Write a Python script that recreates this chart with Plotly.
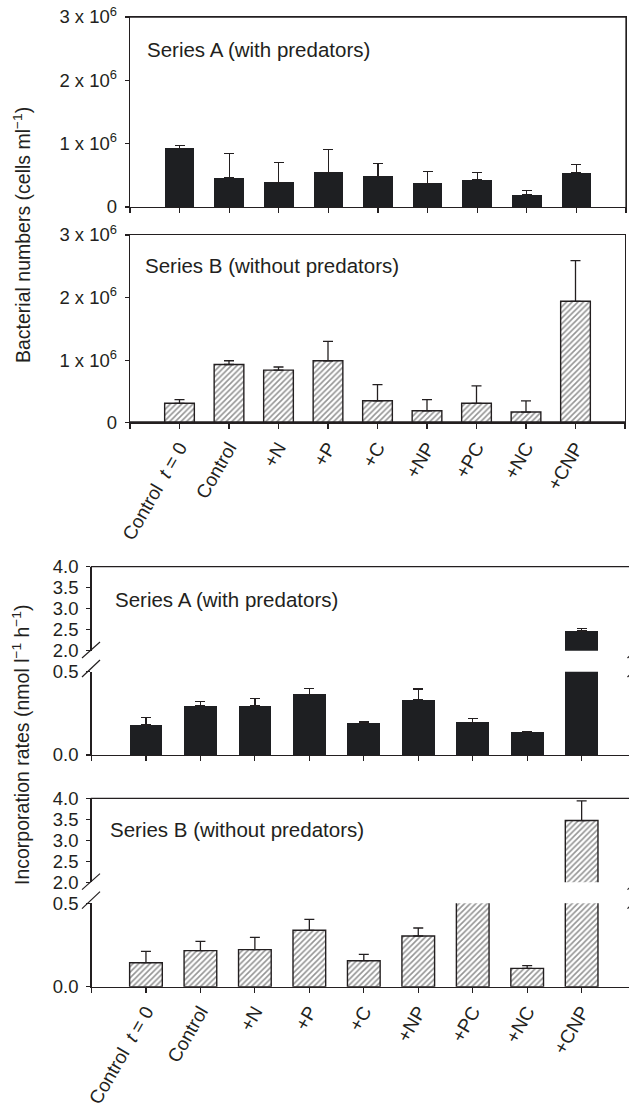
import plotly.graph_objects as go

W, H = 629, 1108

# ---------------- data ----------------
categories = ["Control  <i>t</i> = 0", "Control", "+N", "+P", "+C", "+NP", "+PC", "+NC", "+CNP"]
cat_pos = [1, 2, 3, 4, 5, 6, 7, 8, 9]

# Bacterial numbers (cells ml-1)
bact_A_mean = [0.925e6, 0.465e6, 0.39e6, 0.55e6, 0.487e6, 0.376e6, 0.433e6, 0.195e6, 0.54e6]
bact_A_sd = [0.045e6, 0.375e6, 0.31e6, 0.36e6, 0.20e6, 0.19e6, 0.11e6, 0.065e6, 0.13e6]
bact_B_mean = [0.31e6, 0.93e6, 0.84e6, 0.99e6, 0.35e6, 0.19e6, 0.31e6, 0.17e6, 1.94e6]
bact_B_sd = [0.06e6, 0.06e6, 0.05e6, 0.31e6, 0.26e6, 0.18e6, 0.28e6, 0.18e6, 0.65e6]

# Incorporation rates (nmol l-1 h-1)
inc_A_mean = [0.18, 0.296, 0.294, 0.364, 0.19, 0.332, 0.196, 0.138, 2.47]
inc_A_sd = [0.044, 0.026, 0.044, 0.034, 0.008, 0.064, 0.022, 0.004, 0.06]
inc_B_mean = [0.144, 0.216, 0.222, 0.338, 0.156, 0.304, 1.0, 0.11, 3.47]
inc_B_sd = [0.068, 0.056, 0.074, 0.066, 0.038, 0.048, 0.0, 0.016, 0.47]

bact_ticks = [0, 1e6, 2e6, 3e6]
bact_ticktext = ["0", "1 x 10<sup>6</sup>", "2 x 10<sup>6</sup>", "3 x 10<sup>6</sup>"]
inc_low_ticks = [0.0, 0.5]
inc_high_ticks = [2.0, 2.5, 3.0, 3.5, 4.0]

# ---------------- helpers ----------------
def px(x):
    return x / W

def py(y):
    return 1 - y / H

INK = "#231f20"
FONT = "Liberation Sans, Arial, sans-serif"
solid = dict(color="#1e1f22", line=dict(width=0))
hatch = dict(color="white", line=dict(color=INK, width=1.4),
             pattern=dict(shape="/", fgcolor="#2a2a2a", bgcolor="white", size=4, solidity=0.4))

def bar(mean, sd, marker, xa, ya):
    return go.Bar(x=cat_pos, y=mean, width=0.6, marker=marker, xaxis=xa, yaxis=ya,
                  error_y=dict(type="data", symmetric=False, array=sd, arrayminus=[0] * len(sd),
                               color=INK, thickness=1.3, width=5),
                  showlegend=False, hoverinfo="skip")

fig = go.Figure()
fig.add_trace(bar(bact_A_mean, bact_A_sd, solid, "x", "y"))
fig.add_trace(bar(bact_B_mean, bact_B_sd, hatch, "x2", "y2"))
fig.add_trace(bar(inc_A_mean, inc_A_sd, solid, "x3", "y3"))
fig.add_trace(bar(inc_A_mean, inc_A_sd, solid, "x3", "y4"))
fig.add_trace(bar(inc_B_mean, inc_B_sd, hatch, "x4", "y5"))
fig.add_trace(bar(inc_B_mean, inc_B_sd, hatch, "x4", "y6"))

tick_font = dict(family=FONT, size=18.5, color=INK)
lab_font = dict(family=FONT, size=19, color=INK)

def xaxis(dom, rng, anchor, labels, lw=1.3, mirror=False):
    d = dict(domain=dom, range=rng, anchor=anchor, tickmode="array",
             ticks="outside", ticklen=5, tickwidth=1.2, tickcolor=INK,
             showline=True, linecolor=INK, linewidth=lw, mirror=mirror, automargin=False,
             showgrid=False, zeroline=False, tickfont=lab_font, fixedrange=True,
             ticklabeloverflow="allow")
    if labels:
        d.update(tickvals=cat_pos, ticktext=categories, tickangle=-60,
                 minor=dict(tickmode="array", tickvals=[0, 10], ticks="outside", ticklen=5,
                            tickwidth=1.2, tickcolor=INK, showgrid=False))
    else:
        d.update(tickvals=list(range(0, 11)), showticklabels=False)
    return d

def yaxis(dom, rng, anchor, vals, text=None, mirror=False):
    d = dict(domain=dom, range=rng, anchor=anchor, tickmode="array", tickvals=vals,
             ticks="outside", ticklen=4, tickwidth=1.2, tickcolor=INK, showline=True,
             linecolor=INK, linewidth=1.3, mirror=mirror, showgrid=False, zeroline=False,
             automargin=False, tickfont=tick_font, fixedrange=True, ticklabelstandoff=4,
             ticklabeloverflow="allow")
    if text is not None:
        d["ticktext"] = text
    else:
        d["tickformat"] = ".1f"
    return d

xr34 = [0, (629 - 91.5) / 54.46]

fig.update_layout(
    width=W, height=H, margin=dict(l=0, r=0, t=0, b=0, autoexpand=False),
    paper_bgcolor="white", plot_bgcolor="rgba(0,0,0,0)",
    font=dict(family=FONT, color=INK), bargap=0,
    xaxis=xaxis([px(130), px(626)], [0, 10], "y", False, lw=1.4, mirror=True),
    yaxis=yaxis([py(207), py(17)], [0, 3e6], "x", bact_ticks, bact_ticktext, mirror=True),
    xaxis2=xaxis([px(130), px(625)], [0, 10], "y2", True, lw=1.4, mirror=True),
    yaxis2=yaxis([py(422.7), py(235)], [0, 3e6], "x2", bact_ticks, bact_ticktext, mirror=True),
    xaxis3=xaxis([px(91.5), 1], xr34, "y3", False),
    yaxis3=yaxis([py(755), py(671.7)], [0, 0.5], "x3", inc_low_ticks),
    yaxis4=yaxis([py(650.7), py(566.7)], [2.0, 4.0], "x3", inc_high_ticks),
    xaxis4=xaxis([px(91.5), 1], xr34, "y5", True),
    yaxis5=yaxis([py(986.7), py(903.3)], [0, 0.5], "x4", inc_low_ticks),
    yaxis6=yaxis([py(882.3), py(798.3)], [2.0, 4.0], "x4", inc_high_ticks),
)

shapes = [
    # frame of the top panel (top and right edges)
    dict(type="line", xref="paper", yref="paper", x0=px(130), x1=px(626),
         y0=py(17), y1=py(17), line=dict(color=INK, width=1.4)),
    dict(type="line", xref="paper", yref="paper", x0=px(626), x1=px(626),
         y0=py(17), y1=py(207), line=dict(color=INK, width=1.3)),
    # heavier baseline of the Series B bacterial panel
    dict(type="line", xref="paper", yref="paper", x0=px(130), x1=px(625),
         y0=py(422.7), y1=py(422.7), line=dict(color=INK, width=2.8)),
]
for top in (566.7, 798.3):
    shapes.append(dict(type="line", xref="paper", yref="paper", x0=px(90.8), x1=1.02,
                       y0=py(top), y1=py(top), line=dict(color=INK, width=1.3)))
    off = top - 566.7
    for x0 in (82, 627.5):
        for (ya, yb) in ((658, 642), (677, 660)):
            shapes.append(dict(type="line", xref="paper", yref="paper",
                               x0=px(x0), x1=px(x0 + 18), y0=py(ya + off), y1=py(yb + off),
                               line=dict(color=INK, width=1.2)))
fig.update_layout(shapes=shapes)

ann = [
    dict(text="Series A (with predators)", x=px(145), y=py(50)),
    dict(text="Series B (without predators)", x=px(143), y=py(265)),
    dict(text="Series A (with predators)", x=px(113), y=py(599)),
    dict(text="Series B (without predators)", x=px(108), y=py(829)),
]
annotations = []
for a in ann:
    annotations.append(dict(xref="paper", yref="paper", xanchor="left", yanchor="middle",
                            showarrow=False, font=dict(family=FONT, size=20.5, color=INK), **a))
annotations.append(dict(text="Bacterial numbers (cells ml<sup>−1</sup>)", xref="paper", yref="paper",
                        x=px(22), y=py(235), textangle=-90, showarrow=False,
                        xanchor="center", yanchor="middle",
                        font=dict(family=FONT, size=19.5, color=INK)))
annotations.append(dict(text="Incorporation rates (nmol l<sup>−1</sup> h<sup>−1</sup>)", xref="paper",
                        yref="paper", x=px(21), y=py(745), textangle=-90, showarrow=False,
                        xanchor="center", yanchor="middle",
                        font=dict(family=FONT, size=19.5, color=INK)))
fig.update_layout(annotations=annotations)

# remove the browser's default 8px page margin so the figure fills the window exactly
fig.write_html("out.html", config={"displayModeBar": False, "staticPlot": True},
               post_script="document.body.style.margin='0';")
